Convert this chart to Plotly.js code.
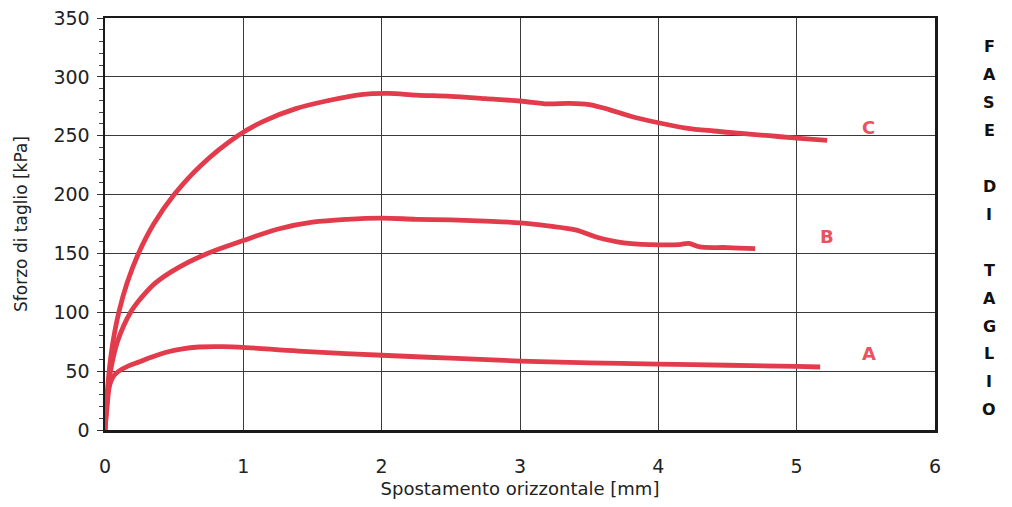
<!DOCTYPE html>
<html>
<head>
<meta charset="utf-8">
<script src="https://cdn.plot.ly/plotly-3.0.1.min.js"></script>
<style>
  html, body { margin: 0; padding: 0; background: #fff; }
  #chart { width: 1012px; height: 507px; }
</style>
</head>
<body>
<div id="chart"></div>
<script>
// Shear stress vs horizontal displacement for the three test stages
const xA = [0, 0.015, 0.03, 0.045, 0.07, 0.1, 0.17, 0.25, 0.35, 0.45, 0.55, 0.68, 0.85, 1.02, 1.4, 2.0, 2.5, 3.0, 3.5, 4.0, 4.5, 5.0, 5.17];
const yA = [0, 20, 36, 42, 47, 50, 54.5, 58, 62.5, 66.3, 68.8, 70.5, 70.8, 70, 67, 63.5, 61, 58.5, 57, 56, 55, 54, 53.5];

const xB = [0, 0.015, 0.04, 0.09, 0.185, 0.26, 0.365, 0.53, 0.74, 1.0, 1.26, 1.5, 1.75, 2.0, 2.25, 2.5, 2.75, 3.0, 3.2, 3.4, 3.55, 3.75, 3.95, 4.15, 4.22, 4.3, 4.5, 4.7];
const yB = [0, 25, 50, 75, 100, 112, 125, 138, 150, 161, 171, 176.5, 179, 180, 179, 178.5, 177.5, 176, 173.5, 170, 164, 159, 157.5, 157.5, 158.5, 155.5, 155, 154];

const xC = [0, 0.012, 0.03, 0.058, 0.1, 0.16, 0.242, 0.352, 0.5, 0.695, 0.96, 1.14, 1.38, 1.62, 1.85, 2.05, 2.25, 2.5, 2.75, 3.0, 3.2, 3.35, 3.5, 3.65, 3.8, 4.0, 4.2, 4.4, 4.6, 4.8, 5.0, 5.22];
const yC = [0, 25, 50, 75, 100, 125, 150, 175, 200, 225, 250, 262, 273, 280, 285, 286, 284.5, 283.5, 281.5, 279.5, 277, 277.5, 276.5, 272, 266.5, 261, 256.5, 254, 252, 250, 248, 246];

// Curve labels and their positions in data units
const curveNames = ['A', 'B', 'C'];
const labelX = [5.52, 5.22, 5.52];
const labelY = [65, 164, 257];

// Side caption, one letter per row ('' = blank row)
const sideLetters = ['F', 'A', 'S', 'E', '', 'D', 'I', '', 'T', 'A', 'G', 'L', 'I', 'O'];

const red = '#e23b4c';
const labelRed = '#ea5262';
const ink = '#222';
const fontFam = '"DejaVu Sans", "Liberation Sans", Arial, sans-serif';

const mk = (x, y, name) => ({
  x: x, y: y, name: name, type: 'scatter', mode: 'lines',
  line: { color: red, width: 4.8, shape: 'spline', smoothing: 1 },
  hoverinfo: 'x+y+name'
});

const traces = [mk(xA, yA, 'A'), mk(xB, yB, 'B'), mk(xC, yC, 'C')];

const annotations = curveNames.map((n, i) => ({
  x: labelX[i], y: labelY[i], xref: 'x', yref: 'y', text: n, showarrow: false,
  font: { family: fontFam, size: 18, color: labelRed, weight: 'bold' }
}));

// Stack the side caption letters down the right margin
const topY = 47, rowH = 27.9, H = 507, T = 18, B = 77;
const plotH = H - T - B;
sideLetters.forEach((ch, i) => {
  if (!ch) return;
  const py = topY + i * rowH;
  annotations.push({
    xref: 'paper', yref: 'paper', x: 1.0 + (989 - 935) / 830, y: 1 - (py - T) / plotH,
    text: ch, showarrow: false, xanchor: 'center', yanchor: 'middle',
    font: { family: fontFam, size: 16, color: '#111', weight: 'bold' }
  });
});

const layout = {
  width: 1012, height: 507,
  margin: { l: 105, r: 77, t: 18, b: 77 },
  paper_bgcolor: '#fff', plot_bgcolor: '#fff',
  showlegend: false,
  font: { family: fontFam, color: ink },
  xaxis: {
    range: [0, 6], dtick: 1, tick0: 0,
    showgrid: true, gridcolor: '#3a3a3a', gridwidth: 1,
    zeroline: false,
    showline: true, linecolor: '#1a1a1a', linewidth: 2.5, mirror: true,
    ticks: '', ticklabelstandoff: 18,
    tickfont: { family: fontFam, size: 19, color: ink },
    title: { text: 'Spostamento orizzontale [mm]', font: { family: fontFam, size: 18, color: ink }, standoff: 6 }
  },
  yaxis: {
    range: [0, 350], dtick: 50, tick0: 0,
    showgrid: true, gridcolor: '#3a3a3a', gridwidth: 1,
    zeroline: false,
    showline: true, linecolor: '#1a1a1a', linewidth: 2.5, mirror: true,
    ticks: 'outside', ticklen: 6, tickcolor: '#333', tickwidth: 1,
    ticklabelstandoff: 3,
    minor: { dtick: 10, ticks: 'outside', ticklen: 4, tickcolor: '#444', tickwidth: 1, showgrid: false },
    tickfont: { family: fontFam, size: 19, color: ink },
    title: { text: 'Sforzo di taglio [kPa]', font: { family: fontFam, size: 17, color: ink }, standoff: 22 }
  },
  annotations: annotations
};

Plotly.newPlot('chart', traces, layout, { displayModeBar: false, staticPlot: true });
</script>
</body>
</html>
